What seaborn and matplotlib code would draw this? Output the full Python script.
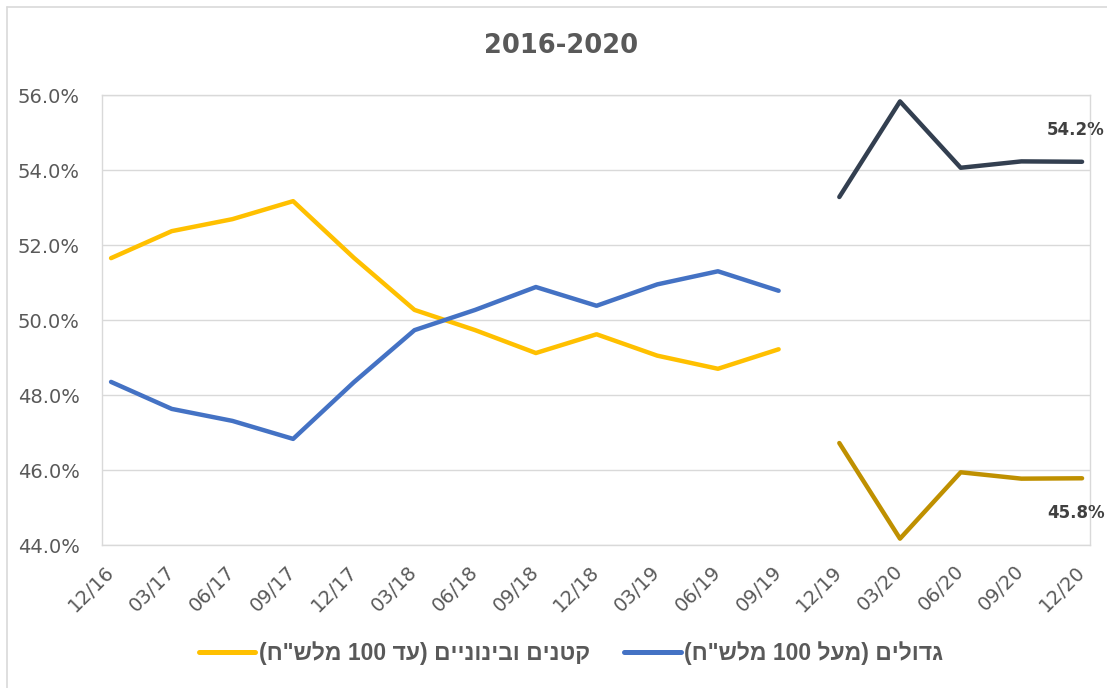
import matplotlib
matplotlib.use("Agg")
import matplotlib.pyplot as plt
import pandas as pd
import seaborn as sns
from matplotlib.lines import Line2D

# Data (share of credit, %)
periods = ["12/16", "03/17", "06/17", "09/17", "12/17", "03/18", "06/18", "09/18",
           "12/18", "03/19", "06/19", "09/19", "12/19", "03/20", "06/20", "09/20", "12/20"]
small_old = [51.65, 52.37, 52.69, 53.17, 51.66, 50.27, 49.73, 49.12, 49.62, 49.05, 48.70, 49.22]
large_old = [48.35, 47.63, 47.31, 46.83, 48.34, 49.73, 50.27, 50.88, 50.38, 50.95, 51.30, 50.78]
small_new = [46.72, 44.17, 45.94, 45.77, 45.78]
large_new = [53.28, 55.83, 54.06, 54.23, 54.22]

label_small = 'קטנים ובינוניים (עד 100 מלש"ח)'
label_large = 'גדולים (מעל 100 מלש"ח)'
title = "2016-2020"

colors = {"small_old": "#FFC000", "large_old": "#4472C4",
          "small_new": "#BF9000", "large_new": "#333F50"}


def visual(s):
    # matplotlib has no bidi support: reverse hebrew text for display
    out = s[::-1].translate(str.maketrans("()", ")("))
    res, num = "", ""
    for ch in out:
        if ch.isdigit():
            num += ch
        else:
            res += num[::-1] + ch
            num = ""
    return res + num[::-1]


rows = []
for name, vals, start in [("small_old", small_old, 0), ("large_old", large_old, 0),
                          ("small_new", small_new, 12), ("large_new", large_new, 12)]:
    for i, v in enumerate(vals):
        rows.append({"x": start + i, "value": v, "series": name})
df = pd.DataFrame(rows)

sns.set_style("white")
plt.rcParams["font.family"] = ["DejaVu Sans"]

fig = plt.figure(figsize=(11.07, 6.88), dpi=100)
ax = fig.add_axes([0.0921, 0.2078, 0.8925, 0.6541])

sns.lineplot(data=df, x="x", y="value", hue="series", palette=colors,
             linewidth=3.2, legend=False, ax=ax, solid_capstyle="round")

ax.set_ylim(44, 56)
ax.set_xlim(-0.15, 16.13)
ax.set_yticks([44, 46, 48, 50, 52, 54, 56])
ax.set_yticklabels([f"{v:.1f}%" for v in [44, 46, 48, 50, 52, 54, 56]],
                   fontsize=14, color="#595959")
ax.set_xticks(range(len(periods)))
ax.set_xticklabels(periods, rotation=45, ha="right", va="center",
                   rotation_mode="anchor", fontsize=14, color="#595959")
ax.tick_params(axis="x", length=0, pad=17)
ax.tick_params(axis="y", length=0, pad=16)
ax.set_xlabel("")
ax.set_ylabel("")
ax.grid(axis="y", color="#D9D9D9", linewidth=1)
ax.set_axisbelow(True)
for sp in ax.spines.values():
    sp.set_color("#D9D9D9")
    sp.set_linewidth(1)

# End labels
ax.annotate(f"{large_new[-1]:.1f}%", (16, large_new[-1]), xytext=(-6, 32),
            textcoords="offset pixels", ha="center", va="center",
            fontsize=12, fontweight="bold", color="#404040")
ax.annotate(f"{small_new[-1]:.1f}%", (16, small_new[-1]), xytext=(-6, -35),
            textcoords="offset pixels", ha="center", va="center",
            fontsize=12, fontweight="bold", color="#404040")

fig.text(0.507, 0.933, title, ha="center", va="center", fontsize=18.5,
         fontweight="bold", color="#595959")

handles = [Line2D([], [], color=colors["small_old"], lw=3.6, solid_capstyle="round"),
           Line2D([], [], color=colors["large_old"], lw=3.6, solid_capstyle="round")]
leg = fig.legend(handles, [visual(label_small), visual(label_large)],
                 loc="center", bbox_to_anchor=(0.516, 0.05), ncol=2, frameon=False,
                 prop={"family": "Liberation Sans", "size": 16.5, "weight": "bold"},
                 handlelength=2.45, handletextpad=0.15, columnspacing=1.5)
for t in leg.get_texts():
    t.set_color("#595959")

# outer chart border (top and left edges visible)
fig.add_artist(Line2D([7 / 1107, 7 / 1107], [0, 1 - 7 / 688], transform=fig.transFigure,
                      color="#D9D9D9", lw=1.2))
fig.add_artist(Line2D([7 / 1107, 1], [1 - 7 / 688, 1 - 7 / 688], transform=fig.transFigure,
                      color="#D9D9D9", lw=1.2))

fig.savefig("out.png", dpi=100)
